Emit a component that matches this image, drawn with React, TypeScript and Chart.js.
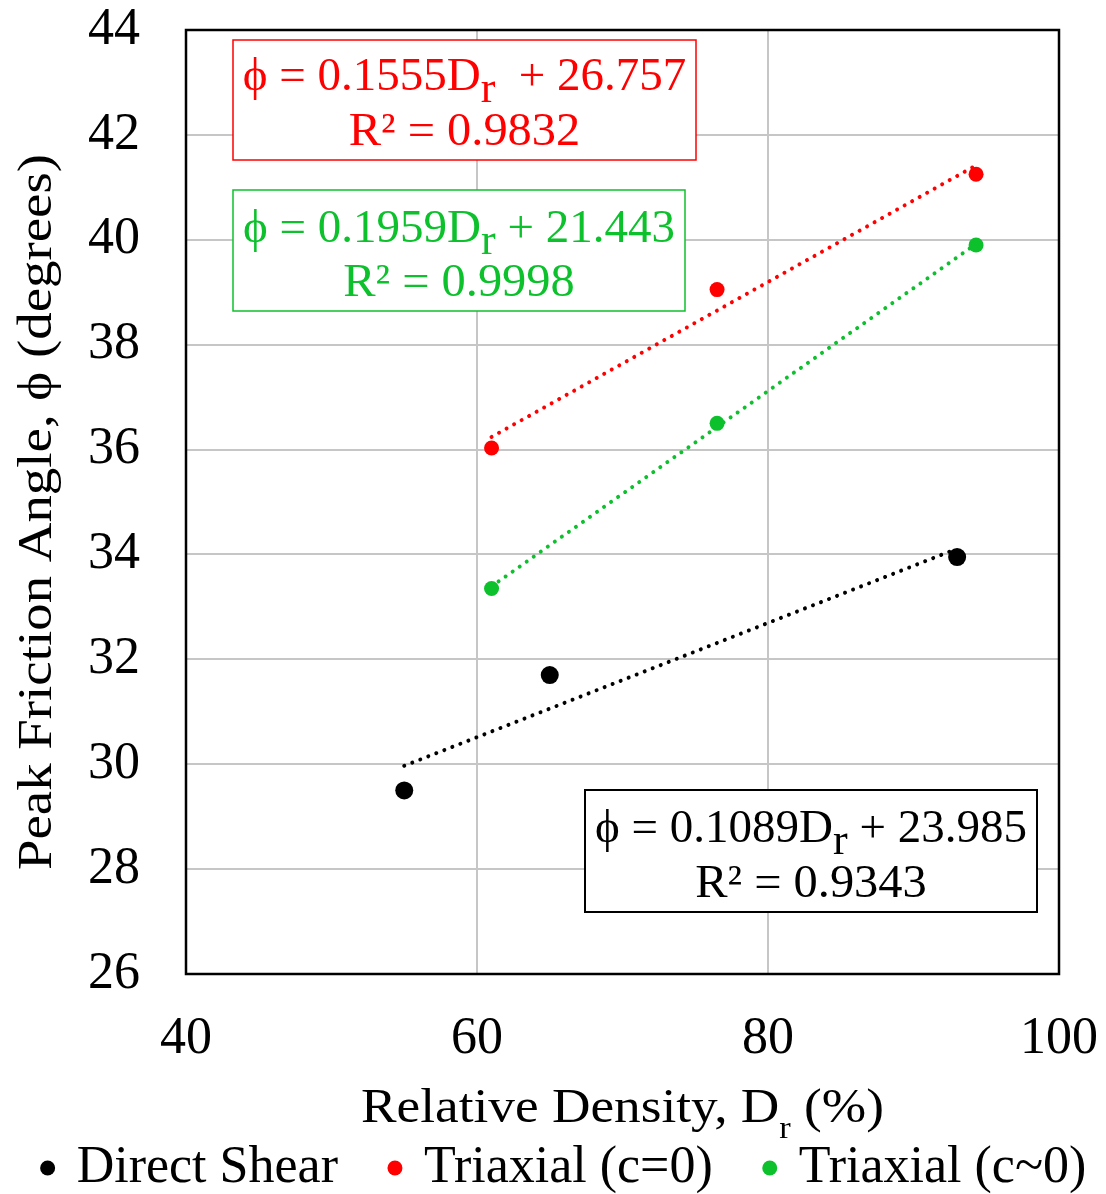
import React, { useEffect, useRef } from 'react';
import { Chart, registerables } from 'chart.js';

Chart.register(...registerables);

const FONT = "'Liberation Serif', 'Times New Roman', Times, serif";

// ---- data ----
const seriesNames = ['Direct Shear', 'Triaxial (c=0)', 'Triaxial (c~0)'];
const seriesColors = ['#000000', '#ff0000', '#0cc12c'];

const directShearDr = [55, 65, 93];
const directShearPhi = [29.5, 31.7, 33.95];

const triaxialC0Dr = [61, 76.5, 94.3];
const triaxialC0Phi = [36.03, 39.05, 41.25];

const triaxialCApproxDr = [61, 76.5, 94.3];
const triaxialCApproxPhi = [33.35, 36.5, 39.9];

// linear trendline end points (as drawn)
const directShearTrendDr = [55, 93];
const directShearTrendPhi = [29.97, 34.11];
const triaxialC0TrendDr = [61, 94.3];
const triaxialC0TrendPhi = [36.24, 41.42];
const triaxialCApproxTrendDr = [61, 94.3];
const triaxialCApproxTrendPhi = [33.39, 39.92];

const xTickMin = 40;
const xTickMax = 100;
const xTickStep = 20;
const yTickMin = 26;
const yTickMax = 44;
const yTickStep = 2;

const xTitleParts = ['Relative Density, D', 'r', ' (%)'];
const yTitle = 'Peak Friction Angle, \u03D5 (degrees)';

const eqDirectShear = ['\u03D5 = 0.1089D', 'r', ' + 23.985'];
const r2DirectShear = 'R\u00B2 = 0.9343';
const eqTriaxialC0 = ['\u03D5 = 0.1555D', 'r', '  + 26.757'];
const r2TriaxialC0 = 'R\u00B2 = 0.9832';
const eqTriaxialCApprox = ['\u03D5 = 0.1959D', 'r', ' + 21.443'];
const r2TriaxialCApprox = 'R\u00B2 = 0.9998';

const zip = (xs: number[], ys: number[]) => xs.map((x, i) => ({ x, y: ys[i] }));

type Seg = { text: string; size: number; dy: number };

function drawRich(ctx: CanvasRenderingContext2D, segs: Seg[], cx: number, baseline: number, scaleX: number, color: string) {
  ctx.save();
  ctx.translate(cx, baseline);
  ctx.scale(scaleX, 1);
  ctx.fillStyle = color;
  ctx.textAlign = 'left';
  ctx.textBaseline = 'alphabetic';
  const widths = segs.map((s) => {
    ctx.font = `${s.size}px ${FONT}`;
    return ctx.measureText(s.text).width;
  });
  const total = widths.reduce((a, b) => a + b, 0);
  let x = -total / 2;
  segs.forEach((s, i) => {
    ctx.font = `${s.size}px ${FONT}`;
    ctx.fillText(s.text, x, s.dy);
    x += widths[i];
  });
  ctx.restore();
}

type Box = { x0: number; y0: number; x1: number; y1: number; color: string; lw: number; eq: string[]; r2: string; b1: number; b2: number };

const boxes: Box[] = [
  { x0: 233, y0: 40, x1: 696, y1: 160, color: seriesColors[1], lw: 1.5, eq: eqTriaxialC0, r2: r2TriaxialC0, b1: 90, b2: 145 },
  { x0: 233, y0: 190, x1: 685, y1: 311, color: seriesColors[2], lw: 1.5, eq: eqTriaxialCApprox, r2: r2TriaxialCApprox, b1: 242, b2: 296 },
  { x0: 585, y0: 790, x1: 1037, y1: 912, color: seriesColors[0], lw: 2, eq: eqDirectShear, r2: r2DirectShear, b1: 842, b2: 897 },
];

const overlayPlugin = {
  id: 'overlay',
  beforeDatasetsDraw(chart: any) {
    const { ctx, chartArea: a } = chart;
    ctx.save();
    ctx.strokeStyle = '#000';
    ctx.lineWidth = 2.5;
    ctx.strokeRect(a.left, a.top, a.right - a.left, a.bottom - a.top);
    ctx.restore();
  },
  afterDraw(chart: any) {
    const { ctx, chartArea: a } = chart;
    // annotation boxes
    boxes.forEach((b) => {
      ctx.save();
      ctx.fillStyle = '#ffffff';
      ctx.fillRect(b.x0, b.y0, b.x1 - b.x0, b.y1 - b.y0);
      ctx.strokeStyle = b.color;
      ctx.lineWidth = b.lw;
      ctx.strokeRect(b.x0, b.y0, b.x1 - b.x0, b.y1 - b.y0);
      ctx.restore();
      const cx = (b.x0 + b.x1) / 2;
      drawRich(ctx, [
        { text: b.eq[0], size: 47, dy: 0 },
        { text: b.eq[1], size: 44, dy: 12 },
        { text: b.eq[2], size: 47, dy: 0 },
      ], cx, b.b1, 1, b.color);
      drawRich(ctx, [{ text: b.r2, size: 47, dy: 0 }], cx, b.b2, 1.03, b.color);
    });
    // x title
    drawRich(ctx, [
      { text: xTitleParts[0], size: 48, dy: 0 },
      { text: xTitleParts[1], size: 31, dy: 16 },
      { text: xTitleParts[2], size: 48, dy: 0 },
    ], (a.left + a.right) / 2, 1122, 1.11, '#000');
    // y title
    ctx.save();
    ctx.translate(51, (a.top + a.bottom) / 2 + 10);
    ctx.rotate(-Math.PI / 2);
    ctx.scale(1.12, 1);
    ctx.font = `49px ${FONT}`;
    ctx.fillStyle = '#000';
    ctx.textAlign = 'center';
    ctx.textBaseline = 'alphabetic';
    ctx.fillText(yTitle, 0, 0);
    ctx.restore();
  },
};

export default function App() {
  const ref = useRef<HTMLCanvasElement | null>(null);

  useEffect(() => {
    if (!ref.current) return;
    const pointSeries = [
      zip(directShearDr, directShearPhi),
      zip(triaxialC0Dr, triaxialC0Phi),
      zip(triaxialCApproxDr, triaxialCApproxPhi),
    ];
    const trendSeries = [
      zip(directShearTrendDr, directShearTrendPhi),
      zip(triaxialC0TrendDr, triaxialC0TrendPhi),
      zip(triaxialCApproxTrendDr, triaxialCApproxTrendPhi),
    ];
    const pointRadii = [9, 7.5, 7.5];

    const datasets: any[] = [];
    pointSeries.forEach((d, i) => {
      datasets.push({
        label: seriesNames[i],
        data: d,
        pointStyle: 'circle',
        pointRadius: pointRadii[i],
        backgroundColor: seriesColors[i],
        borderColor: seriesColors[i],
        borderWidth: 0,
        showLine: false,
      });
    });
    trendSeries.forEach((d, i) => {
      datasets.push({
        label: seriesNames[i] + ' trend',
        data: d,
        showLine: true,
        pointRadius: 0,
        borderColor: seriesColors[i],
        backgroundColor: seriesColors[i],
        borderWidth: 4,
        borderDash: [0.01, 8.6],
        borderCapStyle: 'round',
        fill: false,
      });
    });

    const chart = new Chart(ref.current, {
      type: 'scatter',
      data: { datasets },
      options: {
        animation: false,
        responsive: false,
        events: [],
        layout: { padding: { left: 25, right: 0, top: 30, bottom: -10 } },
        scales: {
          x: {
            type: 'linear',
            min: xTickMin,
            max: xTickMax,
            ticks: {
              stepSize: xTickStep,
              color: '#000',
              padding: 0,
              font: { family: FONT, size: 52, lineHeight: 1 },
            },
            grid: { color: '#c6c6c6', lineWidth: 2, drawTicks: true, tickLength: 39, tickColor: 'rgba(0,0,0,0)' },
            border: { display: false },
            afterFit: (s: any) => { s.height = 153; },
          },
          y: {
            type: 'linear',
            min: yTickMin,
            max: yTickMax,
            ticks: {
              stepSize: yTickStep,
              color: '#000',
              padding: 0,
              font: { family: FONT, size: 52, lineHeight: 1 },
            },
            grid: { color: '#c6c6c6', lineWidth: 2, drawTicks: true, tickLength: 46, tickColor: 'rgba(0,0,0,0)' },
            border: { display: false },
            afterFit: (s: any) => { s.width = 161; },
          },
          y2: {
            type: 'linear',
            position: 'right',
            display: true,
            ticks: { display: false },
            grid: { display: false, drawTicks: false },
            border: { display: false },
            afterFit: (s: any) => { s.width = 47; },
          },
        },
        plugins: {
          tooltip: { enabled: false },
          title: { display: false },
          legend: {
            display: true,
            position: 'bottom',
            align: 'center',
            labels: {
              usePointStyle: true,
              boxWidth: 6,
              boxHeight: 10.6,
              padding: 15,
              color: '#000',
              font: { family: FONT, size: 52 },
              filter: (item: any) => item.datasetIndex < 3,
              generateLabels: (c: any) => {
                const items = Chart.defaults.plugins.legend.labels.generateLabels(c);
                return items.map((it: any) => {
                  if (it.datasetIndex === 0 || it.datasetIndex === 1) {
                    return { ...it, text: it.text + '   ' };
                  }
                  return it;
                });
              },
            },
          },
        },
      },
      plugins: [overlayPlugin],
    } as any);

    return () => chart.destroy();
  }, []);

  return (
    <div style={{ position: 'absolute', left: 0, top: 0, width: 1106, height: 1194, background: '#fff' }}>
      <canvas ref={ref} width={1106} height={1194} style={{ display: 'block' }} />
    </div>
  );
}
